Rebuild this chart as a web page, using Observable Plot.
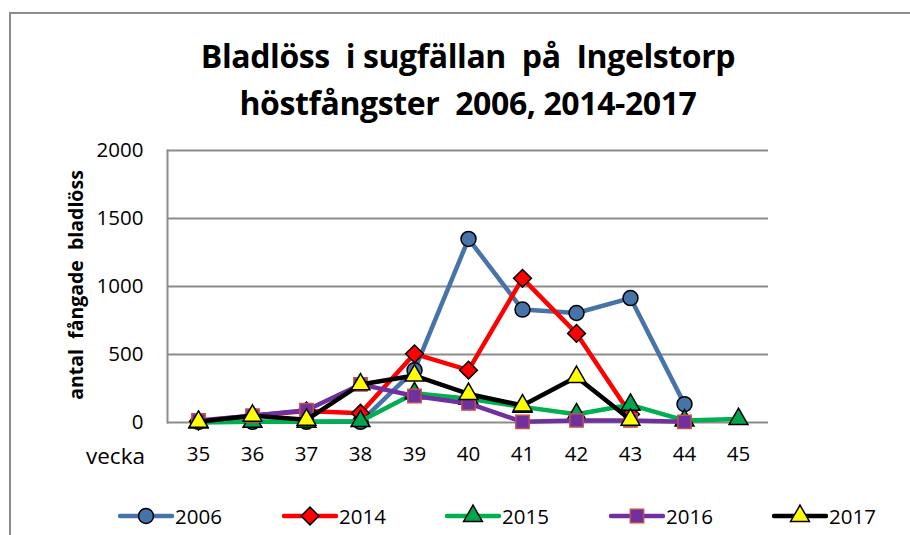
<!DOCTYPE html>
<html>
<head>
<meta charset="utf-8">
<script src="https://cdn.jsdelivr.net/npm/d3@7"></script>
<script src="https://cdn.jsdelivr.net/npm/@observablehq/plot@0.6"></script>
<style>
  html, body { margin:0; padding:0; background:#fff; }
  #wrap { position:relative; width:910px; height:535px; overflow:hidden; font-family:"Open Sans", "Liberation Sans", sans-serif; }
  #border { position:absolute; left:9px; top:12px; width:920px; height:600px; border-left:2px solid #8c8c8c; border-top:2px solid #8c8c8c; }
  .title { position:absolute; left:0; width:936px; text-align:center; font-weight:bold; font-size:32px; color:#000; white-space:nowrap; font-family:"Open Sans", sans-serif; letter-spacing:-0.4px; }
  #plot { position:absolute; left:0; top:0; }
  #ylab { position:absolute; left:75px; top:285px; transform:translate(-50%,-50%) rotate(-90deg); font-weight:bold; font-size:19.5px; white-space:nowrap; }
  #vecka { position:absolute; left:86px; top:440px; font-size:22.5px; }
  .leg { position:absolute; top:502px; display:flex; align-items:center; font-size:20.5px; }
  .leg svg { display:block; }
</style>
</head>
<body>
<div id="wrap">
  <div id="border"></div>
  <div id="plot"></div>
  <div class="title" style="top:34px;">Bladlöss&nbsp; i sugfällan&nbsp; på&nbsp; Ingelstorp</div>
  <div class="title" style="top:81px;">höstfångster&nbsp; 2006, 2014-2017</div>
  <div id="ylab">antal&nbsp; fångade&nbsp; bladlöss</div>
  <div id="vecka">vecka</div>
</div>
<script>
const weeks = [35, 36, 37, 38, 39, 40, 41, 42, 43, 44, 45];
const yTicks = [0, 500, 1000, 1500, 2000];
const seriesNames = ["2006", "2014", "2015", "2016", "2017"];
const v2006 = [5, 5, 5, 5, 385, 1350, 830, 805, 915, 135, null];
const v2014 = [10, 50, 85, 68, 505, 385, 1060, 655, 60, null, null];
const v2015 = [0, 5, 5, 10, 215, 175, 115, 60, 130, 15, 25];
const v2016 = [15, 50, 90, 280, 195, 140, 5, 15, 15, 5, null];
const v2017 = [5, 50, 20, 280, 345, 210, 125, 335, 20, null, null];

const values = [v2006, v2014, v2015, v2016, v2017];
const styles = [
  {line:"#4674a8", symbol:"circle", fill:"#4674a8", stroke:"#000", r:7.5},
  {line:"#ff0000", symbol:"diamond2", fill:"#ff0000", stroke:"#000", r:8},
  {line:"#00b050", symbol:"triangle", fill:"#00a550", stroke:"#000", r:7},
  {line:"#7030a0", symbol:"square", fill:"#7030a0", stroke:"#c0504d", r:7.5},
  {line:"#000000", symbol:"triangle", fill:"#ffff00", stroke:"#000", r:7}
];

const marks = [
  Plot.gridY(yTicks, {stroke:"#8c8c8c", strokeOpacity:1, strokeWidth:2}),
  Plot.frame({anchor:"left", stroke:"#8c8c8c", strokeWidth:2}),
  Plot.axisY(yTicks, {tickSize:0, tickPadding:24, fontSize:20.5, fill:"#000", label:null, tickFormat:d => String(d)}),
  Plot.axisX(weeks, {tickSize:0, tickPadding:24, fontSize:20.5, fill:"#000", label:null, tickFormat:d => String(d)})
];
seriesNames.forEach((name, i) => {
  const data = weeks.map((w, j) => ({week:w, value:values[i][j]}));
  const s = styles[i];
  marks.push(Plot.line(data, {x:"week", y:"value", stroke:s.line, strokeWidth:4.5, strokeLinejoin:"round"}));
  marks.push(Plot.dot(data.filter(d => d.value != null), {x:"week", y:"value", symbol:() => s.symbol, r:s.r, fill:s.fill, stroke:s.stroke, strokeWidth:1.5}));
});

const chart = Plot.plot({
  width:910, height:480,
  marginLeft:167, marginRight:142, marginTop:150, marginBottom:58,
  style:{fontFamily:"'Open Sans', 'Liberation Sans', sans-serif", fontSize:"20px", background:"transparent", overflow:"visible"},
  x:{type:"point", domain:weeks, padding:0.5, axis:null, label:null},
  y:{domain:[0, 2000], axis:null, label:null},
  symbol:{type:"identity"},
  marks
});
document.getElementById("plot").appendChild(chart);

// legend
const legLeft = [118, 282, 445, 609, 772];
const wrap = document.getElementById("wrap");
seriesNames.forEach((name, i) => {
  const s = styles[i];
  const div = document.createElement("div");
  div.className = "leg";
  div.style.left = legLeft[i] + "px";
  const svg = d3.create("svg").attr("width", 56).attr("height", 26);
  svg.append("line").attr("x1", 2).attr("x2", 54).attr("y1", 13).attr("y2", 13)
    .attr("stroke", s.line).attr("stroke-width", 4.5).attr("stroke-linecap", "round");
  const symMap = {circle:d3.symbolCircle, diamond2:d3.symbolDiamond2, triangle:d3.symbolTriangle, square:d3.symbolSquare};
  svg.append("path").attr("d", d3.symbol(symMap[s.symbol], Math.PI * s.r * s.r)())
    .attr("transform", "translate(28,13)").attr("fill", s.fill).attr("stroke", s.stroke).attr("stroke-width", 1.5);
  div.appendChild(svg.node());
  const t = document.createElement("span");
  t.textContent = name;
  t.style.marginLeft = "1px";
  div.appendChild(t);
  wrap.appendChild(div);
});
</script>
</body>
</html>
